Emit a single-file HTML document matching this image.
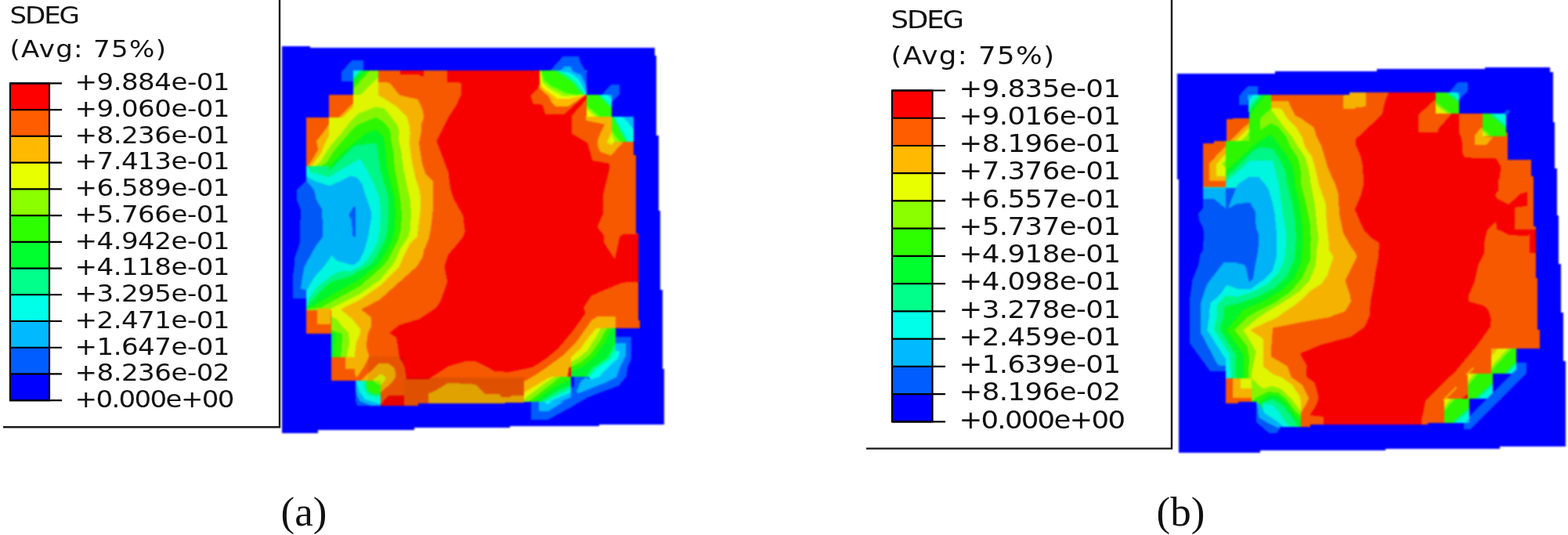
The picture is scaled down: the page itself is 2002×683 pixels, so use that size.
<!DOCTYPE html>
<html lang="en">
<head>
<meta charset="utf-8">
<title>SDEG contour plots</title>
<style>
html,body{margin:0;padding:0;background:#fff;}
body{width:2002px;height:683px;overflow:hidden;}
svg{display:block;}
.lg{font-family:"DejaVu Sans","Liberation Sans",sans-serif;fill:#111;}
.plot{filter:blur(0.8px);}
.cap{font-family:"Liberation Serif",serif;font-size:53px;fill:#111;}
</style>
</head>
<body>
<svg width="2002" height="683" viewBox="0 0 2002 683">
<rect width="2002" height="683" fill="#fff"/>
<g id="plotA" class="plot" shape-rendering="crispEdges"><polygon points="451.25,90 749.4,90 749.4,120.6 780.6,120.6 780.6,149.4 809.4,149.4 809.4,198 811.9,198 811.9,297.5 814.75,297.5 814.75,408.75 817.25,408.75 817.25,418.75 785.6,418.75 785.6,481.25 728.75,481.25 728.75,512.5 668.75,512.5 668.75,514.4 534,515 534,517.5 456.25,517.5 453.75,511 453.75,486.25 422.5,486.25 422.5,426 391.25,426 391.25,381.25 373.75,381.25 373.75,356 375.6,340 376.25,330 383,310 383.75,267.5 378.75,255 378.75,242.5 391.25,230 391.25,150 420,150 420,121.25 451.25,121.25" fill="#FF5D00" />
<polygon points="570.6,90 689.4,90 689.4,110 677.5,122.5 680.6,132.5 692.5,133.75 696.25,146.25 720,146.25 748.75,120.6 749.4,126 730,147.5 730,171.25 737.5,175 750,182.5 753.75,195 756.25,205 777.5,208.75 777.5,217.5 772.5,237.5 770,250 770,272.5 762.5,290 770.6,300 771.25,310 785,331.25 791.25,302.5 795,299.4 814.75,299.4 814.75,360 795,360.6 775,368.75 755,377.5 745,392.5 747.5,400 743.75,405 731.25,422.5 712.5,445 697.5,457.5 680,468.75 650,475 631.25,473.75 622.5,468.75 607.5,461.25 595,461 572.5,467.5 547.5,483.75 518.75,483.75 516.25,467.5 510,456 506.25,431 497.5,425 510,415 535,407.5 557.5,392.5 562.5,385 571.25,360 567.5,340 572.5,325 581.25,315 591.25,302.5 593.75,295 591.25,275 580,255 575,240 572.5,220 565,200 557.5,180 562.5,170 572.5,150 582.5,135 588.75,121.25 588.75,105.6 570.6,105" fill="#FF0000" />
<polygon points="510.6,90 541,90 541,97 536,97 536,94.5 510.6,94.5" fill="#FF0000" />
<polygon points="485,517.5 496.25,505 516.25,505 516.25,517.5" fill="#FF0000" />
<polygon points="360,105 482.5,105 497.5,105.6 510,121.25 533.75,127 540,141 541.25,150 537.5,160 537.5,170 535,182.5 538.75,207.5 543.75,222.5 552.5,231 552.5,255 552.5,271 550,292.5 547.5,305 541.25,320 540,327.5 532.5,340 510,360 485,382.5 461.25,395 473.75,405 473.75,417.5 470,425 467.5,441 471.25,455 466.25,466 456.25,481 453.75,481 360,481" fill="#FFB900" />
<polygon points="360,121.25 482.5,121.25 491.25,126.25 505,135 520,150 522.5,160 523.75,170 522.5,182.5 526.25,207.5 530,225 535,240 537.5,255 536.25,274 533.75,292.5 532.5,302.5 523.75,311 516.25,325 510,340 485,365 460,382.5 435,395 450,407.5 460,420 460,425 455,437.5 452.5,455.6 360,455.6" fill="#E8FF00" />
<polygon points="360,212 403,212 408.75,207.5 416.25,195 425,182.5 436,170 447.5,155 457.5,145 480,136.25 491.25,138.75 500,150 507.5,160 510,170 508.75,176 512.5,195 515,214 518.75,232.5 523.75,255 525,274 523.75,292.5 521.25,302.5 511.25,317.5 505,332.5 500,340 485,357.5 460,375 435,387.5 415,397.5 422.5,404 430,407.5 440,420 445,425 446.25,437.5 442.5,455.6 360,455.6" fill="#8BFF00" />
<polygon points="360,212 410,212 417.5,207.5 425,195 435,182.5 446,170 455,160 480,150 488.75,155 497.5,165 498.75,170 498.75,176 502.5,195 503.75,214 507.5,232.5 510,247.5 511.25,255 513,274 512,292.5 508.75,305 501.25,320 495,332.5 488.75,340 460,365 435,378.75 410,392.5 391.25,395 360,395" fill="#2EFF00" />
<polygon points="422.5,421 430,424 437.5,426 435,455.6 422.5,455.6" fill="#2EFF00" />
<polygon points="422.5,425 428,425 427,455.6 422.5,455.6" fill="#00FF2E" />
<polygon points="360,214 420,214 437,195 467.5,170 480,166 485,170 490,176 492.5,195 494.5,214 498.75,232.5 503,247.5 503.75,255 505,274 503.75,292.5 500,307.5 492.5,322.5 485,335 480,340 460,356 435,370 416,381 391.25,395 360,395" fill="#00FF2E" />
<polygon points="360,212 420,212 420,219 452.5,186 480,182.5 482.5,195 485,214 490,232.5 495,247.5 496.25,255 496.25,274 495,292.5 491.25,307.5 483.75,322.5 476.25,335 470,340 447.5,352.5 422.5,360 410,371 391.25,392.5 360,392.5" fill="#00FF8B" />
<polygon points="360,212 391.25,212 397.5,220 420,226 440,214 460,202.5 470,220 480,240 485,255 486.25,274 485,292.5 482.5,307.5 475,322.5 468.75,332.5 460,340 447.5,346 435,346 422.5,352.5 403.75,367.5 391.25,386 360,386" fill="#00FFE8" />
<polygon points="360,225 391.25,225 401,231 421,237.5 447.5,225 455,226 462.5,235 466,247.5 468.75,255 473.75,270 473.75,280 470,302.5 465,320 458.75,332.5 452.5,337.5 447.5,338 430,332.5 423.75,326 413.75,340 401.25,354 392.5,369 391.25,371 360,371" fill="#00B9FF" />
<polygon points="360,231 391.25,231 401,242.5 403.75,255 411.25,267.5 412,302.5 402.5,315 388.75,340 386.25,352.5 383.75,368.75 391.25,370 391.25,381.25 360,381.25" fill="#005DFF" />
<polygon points="451.9,263.75 453.75,264 453.75,302 450.6,302 448.75,280 445.6,276 446.25,272.5" fill="#005DFF" />
<polygon points="451.25,90 482.5,90 482.5,121.25 451.25,121.25" fill="#E8FF00" />
<polygon points="472.5,90 482.5,90 482.5,98.75 460,121.25 451.25,121.25 451.25,113.75" fill="#8BFF00" />
<polygon points="467,90 472.5,90 451.25,113.75 451.25,107" fill="#2EFF00" />
<polygon points="462,90 467,90 451.25,107 451.25,101.5" fill="#00FF2E" />
<polygon points="459,90 462,90 451.25,101.5 451.25,98.5" fill="#00FF8B" />
<polygon points="451.25,90 459,90 451.25,98.5" fill="#00FFE8" />
<polygon points="420,121.25 451.25,121.25 451.25,150 420,150" fill="#FF5D00" />
<polygon points="451.25,131.25 432,150 437.5,150 451.25,136.25" fill="#FFB900" />
<polygon points="451.25,136.25 437.5,150 451.25,150" fill="#E8FF00" />
<polygon points="391.25,150 420,150 420,212 391.25,212" fill="#FF5D00" />
<polygon points="420,158.5 412,170 404,180 406,191 397.5,206 392.5,212 397.5,212 401.25,207.5 410,195 415,182.5 420,172.5" fill="#FFB900" />
<polygon points="420,172.5 415,182.5 410,195 401.25,207.5 397.5,212 403,212 408.75,207.5 416.25,195 420,189" fill="#E8FF00" />
<polygon points="420,189 416.25,195 408.75,207.5 403,212 410,212 417.5,207.5 420,203" fill="#8BFF00" />
<polygon points="420,203 417.5,207.5 410,212 420,212" fill="#2EFF00" />
<polygon points="391.25,396 422.5,396 422.5,426 391.25,426" fill="#FF5D00" />
<polygon points="405,394 421.5,394 421.5,414 405,414" fill="#FFB900" />
<polygon points="422.5,455.6 453.75,455.6 453.75,486.25 422.5,486.25" fill="#FF5D00" />
<polygon points="441.25,456 471.25,455 466.25,466 456.25,481 453.75,480 452.5,471 441.25,471" fill="#FFB900" />
<polygon points="460,486.5 483.75,463.75 496,464 503.75,470 505.6,480 501.25,487.5 486.25,501 485.5,501 485.5,486.5" fill="#FFB900" />
<polygon points="475,486.5 485,477.5 491.25,480 492.5,485 486.25,491 485.5,491 485.5,486.5" fill="#E8FF00" />
<polygon points="453.75,486.25 485.5,486.25 485.5,517.5 456.25,517.5 453.75,511.25" fill="#005DFF" />
<polygon points="454.4,486.25 485.5,486.25 485.5,517.5 472.5,517.5 460,512.5 456.25,506.25 454.4,500" fill="#00B9FF" />
<polygon points="455,486.25 485.5,486.25 485.5,515 477.5,513.75 466.25,510 458.75,500" fill="#00FFE8" />
<polygon points="463.75,486.25 485.5,486.25 485.5,506.25 478.75,506.9 470,503.75 465,496.25" fill="#00FF8B" />
<polygon points="467.5,486.25 485.5,486.25 485.5,503 477.5,503 470,498.75" fill="#2EFF00" />
<polygon points="475.6,486.25 485.5,486.25 485.5,492" fill="#8BFF00" />
<polygon points="546.9,517.5 546.9,502.5 555,499 571.25,489.4 600,489.6 607.5,491.25 618.75,502.5 637.5,502.5 640,507 650,507 653.75,505 668.75,505 668.75,517.5" fill="#FFB900" />
<polygon points="785.6,403.75 763.75,403.75 755,408.75 747.5,420 735,437.5 718.75,453.75 700,467.5 681.25,480 668.75,487.5 668.75,512.5 728.75,512.5 728.75,481.25 785.6,481.25" fill="#FFB900" />
<polygon points="761.25,418.75 750,432.5 741.25,445 728.75,456.25 728.75,481.25 785.6,481.25 785.6,418.75" fill="#E8FF00" />
<polygon points="767.5,418.75 761.25,430 750,447.5 737.5,457.5 728.75,462.5 728.75,481.25 785.6,481.25 785.6,418.75" fill="#8BFF00" />
<polygon points="775,418.75 766.25,435 753.75,452.5 741.25,462.5 728.75,468.75 728.75,481.25 785.6,481.25 785.6,418.75" fill="#2EFF00" />
<polygon points="781.25,418.75 772.5,437.5 760,455 745,467.5 728.75,475 728.75,481.25 785.6,481.25 785.6,418.75" fill="#00FF2E" />
<polygon points="726,470 728.75,468 728.75,481.25 725,481.25" fill="#FF0000" />
<polygon points="668.75,501.25 700,482.5 705,481.25 728.75,481.25 728.75,512.5 668.75,512.5" fill="#E8FF00" />
<polygon points="668.75,510 675,505 700,486.25 708.75,481.25 728.75,481.25 728.75,512.5 668.75,512.5" fill="#8BFF00" />
<polygon points="675,512.5 706.25,488.75 715,481.25 728.75,481.25 728.75,512.5" fill="#2EFF00" />
<polygon points="682,512.5 710,493 728.75,484 728.75,512.5" fill="#00FF2E" />
<polygon points="690,512.5 712.5,498.75 728.75,491.25 728.75,512.5" fill="#00FF8B" />
<polygon points="695,512.5 712.5,503.75 728.75,496.25 728.75,512.5" fill="#00FFE8" />
<polygon points="747.5,147.5 780.6,149.4 780.6,180.6 796.25,180.6 780,198.75 766.25,193.75 762.5,185 762.5,180 768.75,165 772.5,158.75 747.5,153.75" fill="#FFB900" />
<polygon points="780.6,170 775,181.25 780,185.6 785,180.6 780.6,180.6" fill="#E8FF00" />
<polygon points="516,482 668.75,482 668.75,518 516,518" fill="#000" fill-opacity="0.09"/>
<polygon points="470,455 516,455 516,518 486,518 486,487 470,487" fill="#000" fill-opacity="0.06"/>
<polygon points="451.25,90 749.4,90 749.4,120.6 780.6,120.6 780.6,149.4 809.4,149.4 809.4,198 811.9,198 811.9,297.5 814.75,297.5 814.75,408.75 817.25,408.75 817.25,418.75 785.6,418.75 785.6,481.25 728.75,481.25 728.75,512.5 668.75,512.5 668.75,514.4 534,515 534,517.5 456.25,517.5 453.75,511 453.75,486.25 422.5,486.25 422.5,426 391.25,426 391.25,381.25 373.75,381.25 373.75,356 375.6,340 376.25,330 383,310 383.75,267.5 378.75,255 378.75,242.5 391.25,230 391.25,150 420,150 420,121.25 451.25,121.25" fill="#000" fill-opacity="0.035"/>
<path d="M360 58.8 L396 58.8 L396 61 L835.6 61 L835.6 71 L838 71 L838 172.5 L840.6 172.5 L840.6 268.75 L843 268.75 L843 370 L845.6 370 L845.6 471 L848 471 L848 541.5 L765 541.5 L765 543.75 L650.6 543.75 L650.6 546.4 L528.75 546.4 L528.75 549.4 L406 549.4 L406 552.5 L360 552.5 Z M451.25 90 L749.4 90 L749.4 120.6 L780.6 120.6 L780.6 149.4 L809.4 149.4 L809.4 198 L811.9 198 L811.9 297.5 L814.75 297.5 L814.75 408.75 L817.25 408.75 L817.25 418.75 L785.6 418.75 L785.6 481.25 L728.75 481.25 L728.75 512.5 L668.75 512.5 L668.75 514.4 L534 515 L534 517.5 L456.25 517.5 L453.75 511 L453.75 486.25 L422.5 486.25 L422.5 426 L391.25 426 L391.25 381.25 L373.75 381.25 L373.75 356 L375.6 340 L376.25 330 L383 310 L383.75 267.5 L378.75 255 L378.75 242.5 L391.25 230 L391.25 150 L420 150 L420 121.25 L451.25 121.25 Z" fill="#0000FF" fill-rule="evenodd"/>
<polygon points="435.5,92 449.5,77 463.7,77 463.7,90 451.25,90 451.25,104.4 435.5,104.4" fill="#005DFF" />
<polygon points="689.4,107.5 687.5,111.25 692.5,116.25 700,122.5 703.75,130 710,136.25 725,136.25 748.75,120.6 749.4,90 689.4,90" fill="#FFB900" />
<polygon points="689.4,100 690,108.75 696.25,115 703.75,120 712.5,126.25 725,126.25 748.75,120.6 749.4,90 689.4,90" fill="#E8FF00" />
<polygon points="690,93.75 692.5,105 700,112.5 708.75,117.5 718.75,122.5 727.5,122.5 748.75,120.6 749.4,90 689.4,90" fill="#8BFF00" />
<polygon points="691.25,91.25 695,102.5 703.75,110 712.5,113.75 722.5,118.75 732.5,120.6 748.75,120.6 749.4,90 691,90" fill="#2EFF00" />
<polygon points="708.75,90 722.5,98.75 732.5,106.25 738.75,115 745,120.6 749.4,120.6 749.4,90" fill="#00FF8B" />
<polygon points="712.5,90 725,96.25 735,103.75 741.25,112.5 746.9,120.6 749.4,120.6 749.4,90" fill="#00FFE8" />
<polygon points="702.5,90 718.75,71.9 738.75,71.9 741.25,80 748.75,92.5 749.4,120.6 743.75,110 738.75,101.25 731.25,95 725,92.5 716.25,91.25 715,90" fill="#005DFF" />
<polygon points="715,90 720,85 728.75,85 731.25,91.25 741.25,95 746.25,105 748.75,113.75 748.75,120.6 743.75,110 738.75,101.25 731.25,95 725,92.5 716.25,91.25" fill="#00B9FF" />
<polygon points="749.4,120.6 780.6,120.6 780.6,149.4 749.4,149.4" fill="#2EFF00" />
<polygon points="749.4,135 766.25,149.4 761.25,149.4 749.4,140" fill="#8BFF00" />
<polygon points="749.4,140 761.25,149.4 749.4,149.4" fill="#E8FF00" />
<polygon points="763,120.6 766.25,120.6 780.6,135 780.6,138" fill="#00FF8B" />
<polygon points="766.25,120.6 780.6,120.6 780.6,135" fill="#00FFE8" />
<polygon points="775,120.6 780.6,120.6 780.6,126" fill="#00B9FF" />
<polygon points="768.75,120.6 780,108 790.6,108 790.6,121 781.25,130 780.6,149.4 780.6,120.6" fill="#005DFF" />
<polygon points="780.6,149.4 809.4,149.4 809.4,180.6 780.6,180.6" fill="#2EFF00" />
<polygon points="780.6,166.25 791.25,180.6 785,180.6 780.6,172.5" fill="#8BFF00" />
<polygon points="780.6,172.5 785,180.6 780.6,180.6" fill="#E8FF00" />
<polygon points="782,149.4 785,149.4 802.5,180.6 799,180.6" fill="#00FF8B" />
<polygon points="785,149.4 809.4,149.4 809.4,180.6 802.5,180.6" fill="#00FFE8" />
<polygon points="795,149.4 809.4,149.4 809.4,166 803,158" fill="#00B9FF" />
<polygon points="785.6,430 806.25,430 806.25,457.5 801,470 800,480 790,492.5 772.5,498.75 750,507.5 728.75,520 700,535.6 677.5,535.6 677.5,512.5 728.75,512.5 728.75,494 733,494 733,481.25 785.6,481.25" fill="#005DFF" />
<polygon points="785.6,437.5 798.75,437.5 798.75,455 791,470 787.5,481.25 772.5,488.75 737.5,502.5 736.25,498.75 741.25,487.5 748,481.25 753.75,485 765,481.25 775,470 788.75,457.5 791.25,447.5 785.6,447.5" fill="#00B9FF" />
<polygon points="687.5,512.5 687.5,525 700,525 728.75,507.5 728.75,512.5" fill="#00B9FF" />
<polygon points="695,512.5 698.75,516.25 728.75,501.25 728.75,512.5" fill="#00FFE8" />
<polygon points="702.5,512.5 728.75,501.25 728.75,512.5" fill="#00B9FF" />
<polygon points="716,512.5 728.75,507.5 728.75,512.5" fill="#005DFF" />
<polygon points="785.6,438.75 775,457.5 756,470 748,481.25 765,481.25 775,470 788.75,457.5 791.25,447.5 785.6,447.5" fill="#00FF8B" />
<polygon points="785.6,447.5 780,457.5 762.5,470 752,481.25 753.75,485 765,481.25 775,470 788.75,457.5 791.25,447.5" fill="#00FFE8" /></g>
<g id="plotB" class="plot" shape-rendering="crispEdges"><polygon points="1593,120.6 1722.5,120.6 1722.5,118.1 1863,118.1 1863,145 1923,145 1923,169 1925,169 1925,203.75 1955,203.75 1955,225 1957.5,225 1957.5,288.75 1960.6,288.75 1960.6,355 1963,355 1963,421.25 1966.25,421.25 1966.25,445 1936.25,445 1936.25,477 1906.25,477 1906.25,508.75 1876.25,509.4 1876.25,540 1822.5,540 1822.5,542 1672.5,542 1672.5,544.5 1636.25,544.5 1630,552.5 1620,552.5 1603.75,538.75 1603.75,513 1581.25,512.5 1581.25,515 1565,515 1565,473.75 1545,473.75 1518.75,437.5 1518.75,385 1522.5,357.5 1530,338.75 1532.5,325 1535.6,320 1535.6,310 1537.5,305 1536.25,291.25 1531.25,281.25 1530,272.5 1535.6,266.25 1535.6,183 1550,183 1550,180 1565.6,180 1565.6,151.9 1595,150.6" fill="#FF5D00" />
<polygon points="1773,118.1 1768.75,128.75 1765,145 1750,160 1731.25,177.5 1731.25,185 1737.5,200 1740,212.5 1741.25,235 1737.5,250 1730,267.5 1737.5,285 1742.5,295 1750,303 1761,310 1760,328.75 1756.25,347.5 1753.75,366.25 1750,385 1748.5,404 1742.5,417.5 1725,430 1687.5,440 1660,451.25 1668.75,467.5 1667.5,475 1668.75,481.25 1678.75,488.75 1683.75,507.5 1681.25,516.25 1672.5,530 1690,532 1690,542 1815,542 1815,535 1817.5,525 1820,511.25 1831.25,500 1858.75,473.5 1870,460 1882.5,445 1893.75,430 1902.5,417.5 1903.75,407.5 1900,395 1893.75,390 1875,385 1875,377.5 1882.5,360 1887.5,337.5 1895,322.5 1895,310 1898.75,293.75 1910,282.5 1911.25,292.5 1927.5,300 1950,301.25 1952.5,298.75 1952.5,322.5 1960.6,322.5 1960.6,293 1933.75,293 1933.75,265 1950,262.5 1950,245 1941.25,247.5 1926.25,261.25 1911.25,253.75 1908.75,248.75 1912.5,243.75 1912.5,232.5 1915,225 1916.25,212.5 1910,202.5 1870,201.25 1867.5,196.25 1866.25,177.5 1863,170 1863,145 1853.75,145 1836.25,165 1836.25,168.75 1811.25,168.75 1811.25,146.25 1833,126.25 1833,118.1" fill="#FF0000" />
<polygon points="1866.25,509 1875,502.5 1876.25,509.4" fill="#FF0000" />
<polygon points="1715,122.5 1722.5,118.1 1743.75,118.1 1743.75,136.25 1731.25,137 1730,139.4 1715,139.4" fill="#FFB900" />
<polygon points="1506,128.75 1622.5,128.75 1645,129.4 1653.75,147.5 1662.5,152 1677.5,162.5 1681.25,175 1687.5,187.5 1695,212.5 1700,225 1705,235 1708.75,247.5 1710,272.5 1715,297.5 1725,315 1728.75,320 1732.5,327.5 1717.5,357.5 1723.75,376.25 1725,385 1717.5,397.5 1700,403.75 1697.5,405 1662.5,411.25 1625,418.75 1622.5,455 1643.75,467.5 1648.75,481.25 1662.5,491.25 1671.25,508.75 1661.25,527.5 1661.25,544.5 1506,544.5" fill="#FFB900" />
<polygon points="1506,137.5 1622.5,137.5 1636.25,138.75 1643,150 1655,163 1662.5,175 1666.25,187.5 1675,200 1678.75,212.5 1683.75,235 1692.5,260 1693.75,285 1696.25,305 1697.5,320 1702.5,327.5 1695,351.25 1687.5,362.5 1675,370 1656.25,387.5 1637.5,400 1631.25,405 1596.25,421.25 1612.5,432.5 1612.5,467.5 1625,477.5 1637.5,482.5 1650,491.25 1660,506.25 1661.25,516.25 1661.25,544.5 1506,544.5" fill="#E8FF00" />
<polygon points="1506,139 1622.5,139 1627,145 1640,163 1650,175 1657.5,187.5 1666.25,200 1670,212.5 1672.5,225 1673.75,235 1678.75,260 1681.25,285 1683.75,305 1681.25,320 1680,338.75 1672.5,357.5 1660,371.25 1637.5,386.25 1618.75,397.5 1607.5,405 1587.5,421.25 1597.5,437.5 1603.75,448.75 1600,467.5 1597.5,480 1597.5,482.5 1612.5,496.25 1623.75,492.5 1635,496.25 1647.5,507.5 1658.75,522.5 1661.25,525 1661.25,544.5 1506,544.5" fill="#8BFF00" />
<polygon points="1506,150.6 1608.75,150.6 1608.75,166.25 1622.5,157.5 1632.5,162.5 1642.5,175 1647.5,187.5 1656.25,200 1660,212.5 1661.25,225 1661.25,235 1667.5,260 1672.5,285 1673.75,305 1672.5,320 1672.5,332.5 1662.5,355 1647.5,372.5 1625,387.5 1605,397.5 1592.5,405 1576.25,421.25 1592.5,442.5 1595,455 1593.75,482.5 1506,482.5" fill="#2EFF00" />
<polygon points="1597.5,512.5 1606.25,506.25 1618.75,500 1632.5,501.25 1643.75,511.25 1653.75,525 1661.25,531.25 1661.25,544.5 1597.5,544.5" fill="#2EFF00" />
<polygon points="1506,218.5 1565,218.5 1580,205 1595,191.25 1606.25,181.25 1622.5,171.25 1635,187.5 1643.75,200 1650,212.5 1652.5,225 1653.75,235 1658.75,260 1662.5,285 1662.5,320 1661.25,335 1652.5,355 1637.5,370 1612.5,385 1587.5,395 1580,405 1566.25,421.25 1587.5,452.5 1587.5,482.5 1506,482.5" fill="#00FF2E" />
<polygon points="1608.75,513 1620,505 1631.25,505.6 1642.5,515 1652.5,528.75 1661.25,537.5 1661.25,544.5 1603,544.5" fill="#00FF2E" />
<polygon points="1506,225 1566.25,225 1577.5,215 1590,202.5 1600,192.5 1610,187.5 1625,190 1635,205 1641.25,220 1643.75,235 1650,260 1653.75,285 1655,305 1653.75,320 1652.5,332.5 1643.75,351.25 1627.5,367.5 1606.25,378.75 1581.25,387.5 1563.75,391.25 1562.5,405 1557.5,420 1577.5,452.5 1577.5,482.5 1506,482.5" fill="#00FF8B" />
<polygon points="1612.5,513.75 1625,509.4 1636.25,516.25 1647.5,530 1657.5,544.5 1608.75,544.5" fill="#00FF8B" />
<polygon points="1506,231.25 1566.25,231.25 1582.5,217.5 1596.25,205 1625,205 1628.75,220 1632.5,235 1636.25,260 1640,285 1642.5,300 1641.25,320 1640,332.5 1632.5,347.5 1618.75,362.5 1600,372.5 1580,378.75 1565,377.5 1553.75,390 1553.75,405 1550,420 1570,452.5 1572.5,482.5 1506,482.5" fill="#00FFE8" />
<polygon points="1612,515 1625,517 1633,526 1640,537 1647,544.5 1615,544.5" fill="#00FFE8" />
<polygon points="1506,240 1577.5,240 1581.25,235 1593.75,226.25 1607.5,226.25 1615,235 1620,242.5 1625,260 1627.5,272.5 1630,297.5 1630,326.25 1625,345 1612.5,357.5 1597.5,368.75 1580,368.75 1566.25,363.75 1558.75,375 1545,387.5 1543.75,405 1541.25,421.25 1562.5,455 1565,457.5 1565,473.75 1506,473.75" fill="#00B9FF" />
<polygon points="1608.3,516 1614.9,527.5 1630.7,538 1638.6,544.7 1636.25,544.5 1630,552.5 1620,552.5 1603.75,538.75 1603.75,513" fill="#00B9FF" />
<polygon points="1506,253.75 1550,253.75 1565,266.25 1568,266.25 1580,260 1596.25,258.75 1602.5,270 1603.75,291.25 1607.5,300 1606.25,320 1602.5,338.75 1600,355 1595,360 1590,338.75 1577.5,335 1562.5,335 1550,351.25 1541.25,362.5 1535,380 1532.5,390 1532.5,423.75 1555,466.25 1565,467.5 1565,473.75 1506,473.75" fill="#005DFF" />
<polygon points="1565,240 1578,240 1568,266.25 1565,266.25" fill="#005DFF" />
<polygon points="1604.8,515.7 1607,532.8 1620,540.7 1630.7,546 1636,545 1630,552.5 1620,552.5 1603.75,538.75 1603.75,513" fill="#005DFF" />
<polygon points="1593,120.6 1622.5,120.6 1622.5,150.6 1595,150.6" fill="#2EFF00" />
<polygon points="1622.5,138.75 1622.5,150.6 1610,150.6" fill="#8BFF00" />
<polygon points="1611,120.6 1616,120.6 1594.6,148 1594.3,142.5" fill="#00FF2E" />
<polygon points="1607.5,120.6 1611,120.6 1594.3,142.5 1594,136.25" fill="#00FF8B" />
<polygon points="1600,120.6 1607.5,120.6 1594,136.25 1593.5,130" fill="#00FFE8" />
<polygon points="1593,120.6 1600,120.6 1593.5,130" fill="#00B9FF" />
<polygon points="1565.6,150.6 1595,150.6 1595,180 1565.6,180" fill="#FF5D00" />
<polygon points="1595,156.25 1570,180 1577.5,180 1595,162.5" fill="#FFB900" />
<polygon points="1595,162.5 1577.5,180 1585,180 1595,168.75" fill="#E8FF00" />
<polygon points="1595,168.75 1585,180 1595,180" fill="#8BFF00" />
<polygon points="1535.6,180 1565,180 1565,239.4 1535.6,239.4" fill="#FF5D00" />
<polygon points="1565,186.25 1543.75,208.75 1543.75,231.25 1565,231.25" fill="#FFB900" />
<polygon points="1565,196.25 1552.5,210 1552.5,225 1565,225" fill="#E8FF00" />
<polygon points="1565,204 1560,210 1565,215" fill="#8BFF00" />
<polygon points="1565,483 1597.5,483 1597.5,515 1565,515" fill="#FF5D00" />
<polygon points="1573.75,483 1597.5,483 1597.5,507.5 1573.75,507.5" fill="#FFB900" />
<polygon points="1584.4,483 1597.5,483 1597.5,496.25 1584.4,496.25" fill="#E8FF00" />
<polygon points="1833,118.1 1863,118.1 1863,145 1833,145" fill="#2EFF00" />
<polygon points="1846,118.1 1850,118.1 1863,127.5 1863,131" fill="#00FF8B" />
<polygon points="1850,118.1 1863,118.1 1863,127.5" fill="#00FFE8" />
<polygon points="1859,118.1 1863,118.1 1863,121" fill="#00B9FF" />
<polygon points="1833,130 1833,134 1848,145 1852.5,145" fill="#8BFF00" />
<polygon points="1833,134 1833,145 1848,145" fill="#E8FF00" />
<polygon points="1882.5,173.75 1891.25,162.5 1892.5,163.75 1892.5,174.4 1906.25,175 1897.5,185 1882.5,185" fill="#FFB900" />
<polygon points="1892.5,145 1923,145 1923,174.4 1892.5,174.4" fill="#2EFF00" />
<polygon points="1901,145 1905,145 1923,160 1923,164" fill="#00FF8B" />
<polygon points="1905,145 1923,145 1923,160" fill="#00FFE8" />
<polygon points="1892.5,163.75 1892.5,167.5 1900,174.4 1904,174.4" fill="#8BFF00" />
<polygon points="1892.5,167.5 1892.5,174.4 1900,174.4" fill="#E8FF00" />
<polygon points="1903.75,445 1936.25,445 1936.25,477 1903.75,477" fill="#2EFF00" />
<polygon points="1903.75,445 1912.5,445 1903.75,455" fill="#FFB900" />
<polygon points="1912.5,445 1925,445 1903.75,468.75 1903.75,455" fill="#E8FF00" />
<polygon points="1925,445 1930,445 1903.75,473.75 1903.75,468.75" fill="#8BFF00" />
<polygon points="1936.25,461 1936.25,465 1925,477 1921,477" fill="#00FF8B" />
<polygon points="1936.25,465 1936.25,477 1925,477" fill="#00FFE8" />
<polygon points="1873.75,477 1906.25,477 1906.25,508.75 1873.75,508.75" fill="#2EFF00" />
<polygon points="1873.75,477 1882.5,477 1873.75,487.5" fill="#E8FF00" />
<polygon points="1882.5,477 1887.5,477 1873.75,492.5 1873.75,487.5" fill="#8BFF00" />
<polygon points="1906.25,488 1906.25,492.5 1887.5,508.75 1883,508.75" fill="#00FF8B" />
<polygon points="1906.25,492.5 1906.25,508.75 1887.5,508.75" fill="#00FFE8" />
<polygon points="1906.25,502.5 1906.25,508.75 1900,508.75" fill="#00B9FF" />
<polygon points="1843.75,509.4 1876.25,509.4 1876.25,540 1843.75,540" fill="#2EFF00" />
<polygon points="1843.75,509.4 1852.5,509.4 1843.75,520" fill="#E8FF00" />
<polygon points="1852.5,509.4 1857.5,509.4 1843.75,525 1843.75,520" fill="#8BFF00" />
<polygon points="1876.25,520 1876.25,524.5 1857.5,540 1853,540" fill="#00FF8B" />
<polygon points="1876.25,524.5 1876.25,540 1857.5,540" fill="#00FFE8" />
<polygon points="1876.25,534 1876.25,540 1870,540" fill="#00B9FF" />
<path d="M1872.5 478.75 L1881.25 469.4 M1842.5 511.25 L1860 494.4" stroke="#FFB900" stroke-width="2" fill="none"/>
<polygon points="1593,120.6 1722.5,120.6 1722.5,118.1 1863,118.1 1863,145 1923,145 1923,169 1925,169 1925,203.75 1955,203.75 1955,225 1957.5,225 1957.5,288.75 1960.6,288.75 1960.6,355 1963,355 1963,421.25 1966.25,421.25 1966.25,445 1936.25,445 1936.25,477 1906.25,477 1906.25,508.75 1876.25,509.4 1876.25,540 1822.5,540 1822.5,542 1672.5,542 1672.5,544.5 1636.25,544.5 1630,552.5 1620,552.5 1603.75,538.75 1603.75,513 1581.25,512.5 1581.25,515 1565,515 1565,473.75 1545,473.75 1518.75,437.5 1518.75,385 1522.5,357.5 1530,338.75 1532.5,325 1535.6,320 1535.6,310 1537.5,305 1536.25,291.25 1531.25,281.25 1530,272.5 1535.6,266.25 1535.6,183 1550,183 1550,180 1565.6,180 1565.6,151.9 1595,150.6" fill="#000" fill-opacity="0.035"/>
<path d="M1503 93.5 L1627.5 93.5 L1627.5 91 L1757.5 91 L1757.5 88.1 L1895.6 88.1 L1895.6 85.6 L1979.4 85.6 L1979.4 92 L1982.5 92 L1982.5 156.25 L1985 156.25 L1985 215 L1987.5 215 L1987.5 275 L1990 275 L1990 337 L1993 337 L1993 398.75 L1995.6 398.75 L1995.6 461 L1998.5 461 L1998.5 570 L1915 570 L1915 572.5 L1768.75 572.5 L1768.75 575 L1608.75 575 L1608.75 577.5 L1505.5 577.5 L1505 228.75 L1503 228.75 Z M1593 120.6 L1722.5 120.6 L1722.5 118.1 L1863 118.1 L1863 145 L1923 145 L1923 169 L1925 169 L1925 203.75 L1955 203.75 L1955 225 L1957.5 225 L1957.5 288.75 L1960.6 288.75 L1960.6 355 L1963 355 L1963 421.25 L1966.25 421.25 L1966.25 445 L1936.25 445 L1936.25 477 L1906.25 477 L1906.25 508.75 L1876.25 509.4 L1876.25 540 L1822.5 540 L1822.5 542 L1672.5 542 L1672.5 544.5 L1636.25 544.5 L1630 552.5 L1620 552.5 L1603.75 538.75 L1603.75 513 L1581.25 512.5 L1581.25 515 L1565 515 L1565 473.75 L1545 473.75 L1518.75 437.5 L1518.75 385 L1522.5 357.5 L1530 338.75 L1532.5 325 L1535.6 320 L1535.6 310 L1537.5 305 L1536.25 291.25 L1531.25 281.25 L1530 272.5 L1535.6 266.25 L1535.6 183 L1550 183 L1550 180 L1565.6 180 L1565.6 151.9 L1595 150.6 Z" fill="#0000FF" fill-rule="evenodd"/>
<polygon points="1581.9,122.5 1593.1,110 1605.6,110 1605.6,120.6 1593.1,121.25 1593.1,133.75 1581.9,133.75" fill="#005DFF" />
<polygon points="1850,118.1 1861.25,105 1873.75,105 1873.75,116.25 1863,127.5 1863,118.1" fill="#005DFF" />
<polygon points="1920,145 1925,139.4 1928,142.5 1923,147.5" fill="#005DFF" />
<polygon points="1936.25,462.5 1948.75,462.5 1948.75,476.25 1877.5,547.5 1868.75,547.5 1868.75,540 1876.25,540 1876.25,531.25 1906.25,501.25 1936.25,471.25" fill="#005DFF" /></g>
<rect x="13" y="106.40" width="50" height="33.73" fill="#FF0000"/>
<rect x="13" y="140.13" width="50" height="33.73" fill="#FF5D00"/>
<rect x="13" y="173.87" width="50" height="33.73" fill="#FFB900"/>
<rect x="13" y="207.60" width="50" height="33.73" fill="#E8FF00"/>
<rect x="13" y="241.33" width="50" height="33.73" fill="#8BFF00"/>
<rect x="13" y="275.07" width="50" height="33.73" fill="#2EFF00"/>
<rect x="13" y="308.80" width="50" height="33.73" fill="#00FF2E"/>
<rect x="13" y="342.53" width="50" height="33.73" fill="#00FF8B"/>
<rect x="13" y="376.27" width="50" height="33.73" fill="#00FFE8"/>
<rect x="13" y="410.00" width="50" height="33.73" fill="#00B9FF"/>
<rect x="13" y="443.73" width="50" height="33.73" fill="#005DFF"/>
<rect x="13" y="477.47" width="50" height="33.73" fill="#0000FF"/>
<rect x="13" y="106.40" width="50" height="404.80" fill="none" stroke="#000" stroke-width="2.2"/>
<line x1="13" y1="106.40" x2="79" y2="106.40" stroke="#000" stroke-width="2.2"/>
<line x1="13" y1="140.13" x2="79" y2="140.13" stroke="#000" stroke-width="2.2"/>
<line x1="13" y1="173.87" x2="79" y2="173.87" stroke="#000" stroke-width="2.2"/>
<line x1="13" y1="207.60" x2="79" y2="207.60" stroke="#000" stroke-width="2.2"/>
<line x1="13" y1="241.33" x2="79" y2="241.33" stroke="#000" stroke-width="2.2"/>
<line x1="13" y1="275.07" x2="79" y2="275.07" stroke="#000" stroke-width="2.2"/>
<line x1="13" y1="308.80" x2="79" y2="308.80" stroke="#000" stroke-width="2.2"/>
<line x1="13" y1="342.53" x2="79" y2="342.53" stroke="#000" stroke-width="2.2"/>
<line x1="13" y1="376.27" x2="79" y2="376.27" stroke="#000" stroke-width="2.2"/>
<line x1="13" y1="410.00" x2="79" y2="410.00" stroke="#000" stroke-width="2.2"/>
<line x1="13" y1="443.73" x2="79" y2="443.73" stroke="#000" stroke-width="2.2"/>
<line x1="13" y1="477.47" x2="79" y2="477.47" stroke="#000" stroke-width="2.2"/>
<line x1="13" y1="511.20" x2="79" y2="511.20" stroke="#000" stroke-width="2.2"/>
<text transform="translate(95.5,115.20) scale(1.1,1)" textLength="180.00" lengthAdjust="spacing" class="lg" font-size="31">+9.884e-01</text>
<text transform="translate(95.5,148.93) scale(1.1,1)" textLength="180.00" lengthAdjust="spacing" class="lg" font-size="31">+9.060e-01</text>
<text transform="translate(95.5,182.67) scale(1.1,1)" textLength="180.00" lengthAdjust="spacing" class="lg" font-size="31">+8.236e-01</text>
<text transform="translate(95.5,216.40) scale(1.1,1)" textLength="180.00" lengthAdjust="spacing" class="lg" font-size="31">+7.413e-01</text>
<text transform="translate(95.5,250.13) scale(1.1,1)" textLength="180.00" lengthAdjust="spacing" class="lg" font-size="31">+6.589e-01</text>
<text transform="translate(95.5,283.87) scale(1.1,1)" textLength="180.00" lengthAdjust="spacing" class="lg" font-size="31">+5.766e-01</text>
<text transform="translate(95.5,317.60) scale(1.1,1)" textLength="180.00" lengthAdjust="spacing" class="lg" font-size="31">+4.942e-01</text>
<text transform="translate(95.5,351.33) scale(1.1,1)" textLength="180.00" lengthAdjust="spacing" class="lg" font-size="31">+4.118e-01</text>
<text transform="translate(95.5,385.07) scale(1.1,1)" textLength="180.00" lengthAdjust="spacing" class="lg" font-size="31">+3.295e-01</text>
<text transform="translate(95.5,418.80) scale(1.1,1)" textLength="180.00" lengthAdjust="spacing" class="lg" font-size="31">+2.471e-01</text>
<text transform="translate(95.5,452.53) scale(1.1,1)" textLength="180.00" lengthAdjust="spacing" class="lg" font-size="31">+1.647e-01</text>
<text transform="translate(95.5,486.27) scale(1.1,1)" textLength="180.00" lengthAdjust="spacing" class="lg" font-size="31">+8.236e-02</text>
<text transform="translate(95.5,520.00) scale(1.1,1)" textLength="185.45" lengthAdjust="spacing" class="lg" font-size="31">+0.000e+00</text>
<text transform="translate(12.5,30.00) scale(1.1,1)" textLength="81.36" lengthAdjust="spacing" class="lg" font-size="31">SDEG</text>
<text transform="translate(12.5,72.60) scale(1.1,1)" textLength="181.36" lengthAdjust="spacing" class="lg" font-size="31">(Avg: 75%)</text>
<path d="M357 0 V545.3 H4" fill="none" stroke="#1a1a1a" stroke-width="2.4"/>
<rect x="1139" y="115.50" width="51.5" height="35.24" fill="#FF0000"/>
<rect x="1139" y="150.74" width="51.5" height="35.24" fill="#FF5D00"/>
<rect x="1139" y="185.98" width="51.5" height="35.24" fill="#FFB900"/>
<rect x="1139" y="221.22" width="51.5" height="35.24" fill="#E8FF00"/>
<rect x="1139" y="256.47" width="51.5" height="35.24" fill="#8BFF00"/>
<rect x="1139" y="291.71" width="51.5" height="35.24" fill="#2EFF00"/>
<rect x="1139" y="326.95" width="51.5" height="35.24" fill="#00FF2E"/>
<rect x="1139" y="362.19" width="51.5" height="35.24" fill="#00FF8B"/>
<rect x="1139" y="397.43" width="51.5" height="35.24" fill="#00FFE8"/>
<rect x="1139" y="432.68" width="51.5" height="35.24" fill="#00B9FF"/>
<rect x="1139" y="467.92" width="51.5" height="35.24" fill="#005DFF"/>
<rect x="1139" y="503.16" width="51.5" height="35.24" fill="#0000FF"/>
<rect x="1139" y="115.50" width="51.5" height="422.90" fill="none" stroke="#000" stroke-width="2.2"/>
<line x1="1139" y1="115.50" x2="1207" y2="115.50" stroke="#000" stroke-width="2.2"/>
<line x1="1139" y1="150.74" x2="1207" y2="150.74" stroke="#000" stroke-width="2.2"/>
<line x1="1139" y1="185.98" x2="1207" y2="185.98" stroke="#000" stroke-width="2.2"/>
<line x1="1139" y1="221.22" x2="1207" y2="221.22" stroke="#000" stroke-width="2.2"/>
<line x1="1139" y1="256.47" x2="1207" y2="256.47" stroke="#000" stroke-width="2.2"/>
<line x1="1139" y1="291.71" x2="1207" y2="291.71" stroke="#000" stroke-width="2.2"/>
<line x1="1139" y1="326.95" x2="1207" y2="326.95" stroke="#000" stroke-width="2.2"/>
<line x1="1139" y1="362.19" x2="1207" y2="362.19" stroke="#000" stroke-width="2.2"/>
<line x1="1139" y1="397.43" x2="1207" y2="397.43" stroke="#000" stroke-width="2.2"/>
<line x1="1139" y1="432.68" x2="1207" y2="432.68" stroke="#000" stroke-width="2.2"/>
<line x1="1139" y1="467.92" x2="1207" y2="467.92" stroke="#000" stroke-width="2.2"/>
<line x1="1139" y1="503.16" x2="1207" y2="503.16" stroke="#000" stroke-width="2.2"/>
<line x1="1139" y1="538.40" x2="1207" y2="538.40" stroke="#000" stroke-width="2.2"/>
<text transform="translate(1224.5,123.70) scale(1.1,1)" textLength="187.73" lengthAdjust="spacing" class="lg" font-size="32.3">+9.835e-01</text>
<text transform="translate(1224.5,158.94) scale(1.1,1)" textLength="187.73" lengthAdjust="spacing" class="lg" font-size="32.3">+9.016e-01</text>
<text transform="translate(1224.5,194.18) scale(1.1,1)" textLength="187.73" lengthAdjust="spacing" class="lg" font-size="32.3">+8.196e-01</text>
<text transform="translate(1224.5,229.42) scale(1.1,1)" textLength="187.73" lengthAdjust="spacing" class="lg" font-size="32.3">+7.376e-01</text>
<text transform="translate(1224.5,264.67) scale(1.1,1)" textLength="187.73" lengthAdjust="spacing" class="lg" font-size="32.3">+6.557e-01</text>
<text transform="translate(1224.5,299.91) scale(1.1,1)" textLength="187.73" lengthAdjust="spacing" class="lg" font-size="32.3">+5.737e-01</text>
<text transform="translate(1224.5,335.15) scale(1.1,1)" textLength="187.73" lengthAdjust="spacing" class="lg" font-size="32.3">+4.918e-01</text>
<text transform="translate(1224.5,370.39) scale(1.1,1)" textLength="187.73" lengthAdjust="spacing" class="lg" font-size="32.3">+4.098e-01</text>
<text transform="translate(1224.5,405.63) scale(1.1,1)" textLength="187.73" lengthAdjust="spacing" class="lg" font-size="32.3">+3.278e-01</text>
<text transform="translate(1224.5,440.88) scale(1.1,1)" textLength="187.73" lengthAdjust="spacing" class="lg" font-size="32.3">+2.459e-01</text>
<text transform="translate(1224.5,476.12) scale(1.1,1)" textLength="187.73" lengthAdjust="spacing" class="lg" font-size="32.3">+1.639e-01</text>
<text transform="translate(1224.5,511.36) scale(1.1,1)" textLength="187.73" lengthAdjust="spacing" class="lg" font-size="32.3">+8.196e-02</text>
<text transform="translate(1224.5,546.60) scale(1.1,1)" textLength="193.18" lengthAdjust="spacing" class="lg" font-size="32.3">+0.000e+00</text>
<text transform="translate(1137.5,36.30) scale(1.1,1)" textLength="85.00" lengthAdjust="spacing" class="lg" font-size="32.3">SDEG</text>
<text transform="translate(1137.5,82.00) scale(1.1,1)" textLength="189.55" lengthAdjust="spacing" class="lg" font-size="32.3">(Avg: 75%)</text>
<path d="M1496 0 V572.6 H1106" fill="none" stroke="#1a1a1a" stroke-width="2.4"/>
<text x="388" y="671" text-anchor="middle" class="cap">(a)</text>
<text x="1507.5" y="671" text-anchor="middle" class="cap">(b)</text>
</svg>
</body>
</html>
